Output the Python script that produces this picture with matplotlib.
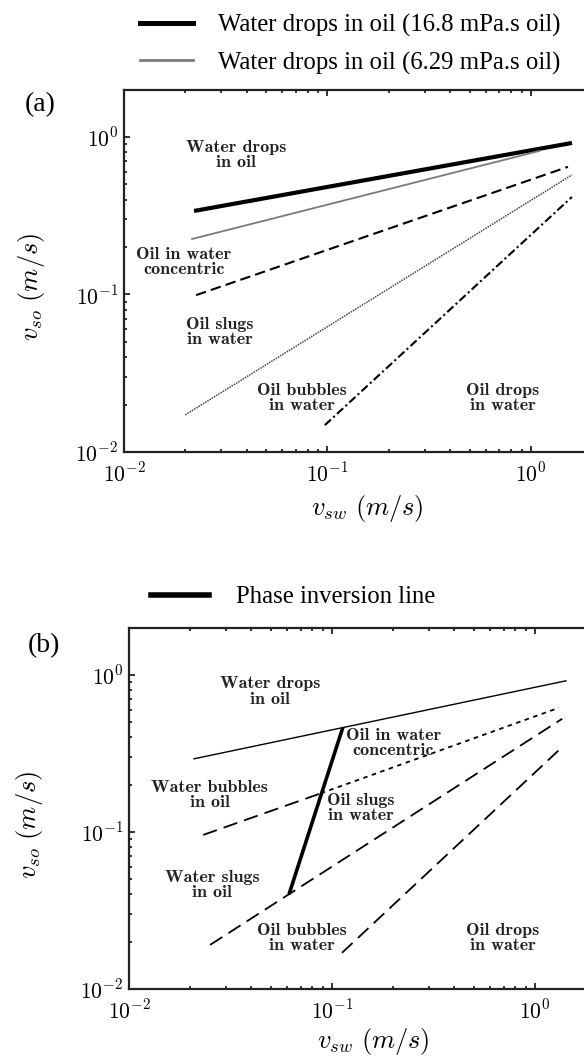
import numpy as np
import matplotlib
matplotlib.use("Agg")
import matplotlib.pyplot as plt
from matplotlib.ticker import FuncFormatter, LogLocator
from matplotlib.lines import Line2D

plt.rcParams['mathtext.fontset'] = 'cm'

# ---------------- data (panel a) ----------------
a_oil168_x = [0.0221, 1.59]
a_oil168_y = [0.339, 0.916]
a_oil629_x = [0.0216, 1.10]
a_oil629_y = [0.225, 0.815]
a_concentric_x = [0.0226, 1.52]
a_concentric_y = [0.099, 0.646]
a_slugs_x = [0.0200, 1.59]
a_slugs_y = [0.0172, 0.574]
a_bubbles_x = [0.097, 1.59]
a_bubbles_y = [0.0148, 0.416]

a_labels = ["Water drops\nin oil", "Oil in water\nconcentric", "Oil slugs\nin water",
            "Oil bubbles\nin water", "Oil drops\nin water"]
a_label_x = [0.0355, 0.0197, 0.0296, 0.075, 0.727]
a_label_y = [0.77, 0.161, 0.0578, 0.022, 0.022]
a_legend = ["Water drops in oil (16.8 mPa.s oil)", "Water drops in oil (6.29 mPa.s oil)"]

# ---------------- data (panel b) ----------------
b_drops_x = [0.0209, 1.42]
b_drops_y = [0.292, 0.916]
b_phase_x = [0.0614, 0.113]
b_phase_y = [0.0401, 0.462]
b_wbub_x = [0.0232, 0.088]
b_wbub_y = [0.0957, 0.176]
b_conc_x = [0.088, 1.31]
b_conc_y = [0.176, 0.617]
b_slugs_x = [0.0251, 1.36]
b_slugs_y = [0.0191, 0.525]
b_bubbles_x = [0.112, 1.36]
b_bubbles_y = [0.0170, 0.347]

b_labels = ["Water drops\nin oil", "Oil in water\nconcentric", "Water bubbles\nin oil",
            "Oil slugs\nin water", "Water slugs\nin oil", "Oil bubbles\nin water",
            "Oil drops\nin water"]
b_label_x = [0.0496, 0.20, 0.025, 0.139, 0.0256, 0.071, 0.695]
b_label_y = [0.78, 0.369, 0.172, 0.142, 0.046, 0.0211, 0.0211]
b_legend = ["Phase inversion line"]

xlim = (0.01, 10 ** 0.3)
ylim = (0.01, 10 ** 0.298)

W, H = 584, 1061
fig = plt.figure(figsize=(W / 100, H / 100), dpi=100)

def px_axes(left, top, right, bottom):
    return fig.add_axes([left / W, 1 - bottom / H, (right - left) / W, (bottom - top) / H])

ax_a = px_axes(124, 90, 592, 452)
ax_b = px_axes(129, 628, 596, 989)

fmt = FuncFormatter(lambda v, p: r'$10^{%d}$' % int(round(np.log10(v))))
label_font = dict(family='cmb10', fontsize=13, ha='center', va='center',
                  linespacing=1.05, color='#222222')
serif = 'Liberation Serif'

for ax in (ax_a, ax_b):
    ax.set_xscale('log')
    ax.set_yscale('log')
    ax.set_xlim(*xlim)
    ax.set_ylim(*ylim)
    ax.xaxis.set_major_formatter(fmt)
    ax.yaxis.set_major_formatter(fmt)
    ax.xaxis.set_minor_locator(LogLocator(base=10, subs=np.arange(2, 10)))
    ax.yaxis.set_minor_locator(LogLocator(base=10, subs=np.arange(2, 10)))
    ax.tick_params(which='both', direction='in', top=True, right=False, width=1.3, color='#222')
    ax.tick_params(which='major', length=4, labelsize=15.5, pad=4)
    ax.tick_params(which='minor', length=2)
    ax.tick_params(axis='x', which='major', pad=7)
    ax.spines['right'].set_visible(False)
    for s in ('left', 'bottom', 'top'):
        ax.spines[s].set_linewidth(1.6)
        ax.spines[s].set_color('#222')
    ax.set_xlabel(r'$v_{sw}\ (m/s)$', fontsize=19)
    ax.set_ylabel(r'$v_{so}\ (m/s)$', fontsize=19)
    ax.xaxis.label.set_va('center')
    ax.yaxis.label.set_va('center')

ax_a.xaxis.set_label_coords(0.52, -0.155)
ax_a.yaxis.set_label_coords(-0.197, 0.456)
ax_b.xaxis.set_label_coords(0.523, -0.145)
ax_b.yaxis.set_label_coords(-0.212, 0.454)

# panel a lines
ax_a.plot(a_oil168_x, a_oil168_y, color='black', lw=3.0, solid_capstyle='butt')
ax_a.plot(a_oil629_x, a_oil629_y, color='#7a7a7a', lw=1.3)
ax_a.plot(a_concentric_x, a_concentric_y, color='black', lw=1.5, linestyle=(0, (5, 2.5)))
ax_a.plot(a_slugs_x, a_slugs_y, color='#444444', lw=1.1, linestyle=(0, (1, 0.7)))
ax_a.plot(a_bubbles_x, a_bubbles_y, color='black', lw=1.5, linestyle=(0, (4, 1.5, 1, 1.5)))
for t, x, y in zip(a_labels, a_label_x, a_label_y):
    ax_a.text(x, y, t, **label_font)

# panel b lines
ax_b.plot(b_drops_x, b_drops_y, color='black', lw=1.0)
ax_b.plot(b_phase_x, b_phase_y, color='black', lw=2.6, solid_capstyle='butt')
ax_b.plot(b_wbub_x, b_wbub_y, color='black', lw=1.3, linestyle=(0, (8, 4)))
ax_b.plot(b_conc_x, b_conc_y, color='black', lw=1.3, linestyle=(0, (2.5, 2.5)))
ax_b.plot(b_slugs_x, b_slugs_y, color='black', lw=1.3, linestyle=(0, (8, 4)))
ax_b.plot(b_bubbles_x, b_bubbles_y, color='black', lw=1.3, linestyle=(0, (8, 4)))
for t, x, y in zip(b_labels, b_label_x, b_label_y):
    ax_b.text(x, y, t, **label_font)

# legends
h1 = Line2D([], [], color='black', lw=3.6)
h2 = Line2D([], [], color='#7a7a7a', lw=2.0)
ax_a.legend([h1, h2], a_legend, loc='center left',
            bbox_to_anchor=(140 / W, 1 - 44 / H), bbox_transform=fig.transFigure,
            frameon=False, borderpad=0, borderaxespad=0, handlelength=2.15,
            handletextpad=1.0, labelspacing=0.6,
            prop=dict(family=serif, size=17.8))
h3 = Line2D([], [], color='black', lw=4.0)
ax_b.legend([h3], b_legend, loc='center left',
            bbox_to_anchor=(151 / W, 1 - 597 / H), bbox_transform=fig.transFigure,
            frameon=False, borderpad=0, borderaxespad=0, handlelength=2.35,
            handletextpad=1.1, prop=dict(family=serif, size=17.8))

fig.text(40 / W, 1 - 105 / H, '(a)', family=serif, fontsize=20, ha='center', va='center')
fig.text(44 / W, 1 - 646 / H, '(b)', family=serif, fontsize=20, ha='center', va='center')

fig.savefig('out.png', dpi=100)
